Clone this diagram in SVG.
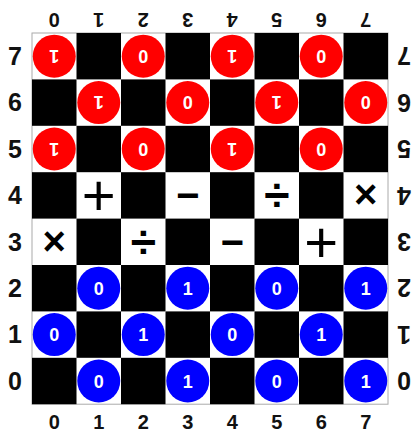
<svg xmlns="http://www.w3.org/2000/svg" width="417" height="432" viewBox="0 0 417 432">
<defs>
<style>
.lbl{font-family:"Liberation Sans",Arial,sans-serif;font-weight:bold;fill:#111;text-anchor:middle}
.sm{font-size:20px}
.lg{font-size:25px}
.blk{fill:#000}
.red{fill:#ff0000}
.blue{fill:#0000ff}
.num{font-family:"Liberation Sans",Arial,sans-serif;font-weight:bold;font-size:18px;fill:#fff;text-anchor:middle}
.op{font-family:"Liberation Sans",Arial,sans-serif;fill:#000;text-anchor:middle}
</style>
</defs>
<rect width="417" height="432" fill="#fff"/>
<g id="board">
<rect x="32" y="33" width="356" height="371.2" fill="#fff" stroke="#aaa" stroke-width="1"/>
<g class="blk">
<rect x="76.5" y="33" width="44.5" height="46.4"/><rect x="165.5" y="33" width="44.5" height="46.4"/><rect x="254.5" y="33" width="44.5" height="46.4"/><rect x="343.5" y="33" width="44.5" height="46.4"/>
<rect x="32" y="79.4" width="44.5" height="46.4"/><rect x="121" y="79.4" width="44.5" height="46.4"/><rect x="210" y="79.4" width="44.5" height="46.4"/><rect x="299" y="79.4" width="44.5" height="46.4"/>
<rect x="76.5" y="125.8" width="44.5" height="46.4"/><rect x="165.5" y="125.8" width="44.5" height="46.4"/><rect x="254.5" y="125.8" width="44.5" height="46.4"/><rect x="343.5" y="125.8" width="44.5" height="46.4"/>
<rect x="32" y="172.2" width="44.5" height="46.4"/><rect x="121" y="172.2" width="44.5" height="46.4"/><rect x="210" y="172.2" width="44.5" height="46.4"/><rect x="299" y="172.2" width="44.5" height="46.4"/>
<rect x="76.5" y="218.6" width="44.5" height="46.4"/><rect x="165.5" y="218.6" width="44.5" height="46.4"/><rect x="254.5" y="218.6" width="44.5" height="46.4"/><rect x="343.5" y="218.6" width="44.5" height="46.4"/>
<rect x="32" y="265" width="44.5" height="46.4"/><rect x="121" y="265" width="44.5" height="46.4"/><rect x="210" y="265" width="44.5" height="46.4"/><rect x="299" y="265" width="44.5" height="46.4"/>
<rect x="76.5" y="311.4" width="44.5" height="46.4"/><rect x="165.5" y="311.4" width="44.5" height="46.4"/><rect x="254.5" y="311.4" width="44.5" height="46.4"/><rect x="343.5" y="311.4" width="44.5" height="46.4"/>
<rect x="32" y="357.8" width="44.5" height="46.4"/><rect x="121" y="357.8" width="44.5" height="46.4"/><rect x="210" y="357.8" width="44.5" height="46.4"/><rect x="299" y="357.8" width="44.5" height="46.4"/>
</g>
</g>
<g id="labels-left">
<text class="lbl lg" x="15" y="65">7</text>
<text class="lbl lg" x="15" y="111.4">6</text>
<text class="lbl lg" x="15" y="157.8">5</text>
<text class="lbl lg" x="15" y="204.2">4</text>
<text class="lbl lg" x="15" y="250.6">3</text>
<text class="lbl lg" x="15" y="297">2</text>
<text class="lbl lg" x="15" y="343.4">1</text>
<text class="lbl lg" x="15" y="389.8">0</text>
</g>
<g id="labels-right">
<text class="lbl lg" x="404" y="65" transform="rotate(180 404 56.2)">7</text>
<text class="lbl lg" x="404" y="111.4" transform="rotate(180 404 102.6)">6</text>
<text class="lbl lg" x="404" y="157.8" transform="rotate(180 404 149)">5</text>
<text class="lbl lg" x="404" y="204.2" transform="rotate(180 404 195.4)">4</text>
<text class="lbl lg" x="404" y="250.6" transform="rotate(180 404 241.8)">3</text>
<text class="lbl lg" x="404" y="297" transform="rotate(180 404 288.2)">2</text>
<text class="lbl lg" x="404" y="343.4" transform="rotate(180 404 334.6)">1</text>
<text class="lbl lg" x="404" y="389.8" transform="rotate(180 404 381)">0</text>
</g>
<g id="labels-bottom">
<text class="lbl sm" x="54.25" y="429">0</text>
<text class="lbl sm" x="98.75" y="429">1</text>
<text class="lbl sm" x="143.25" y="429">2</text>
<text class="lbl sm" x="187.75" y="429">3</text>
<text class="lbl sm" x="232.25" y="429">4</text>
<text class="lbl sm" x="276.75" y="429">5</text>
<text class="lbl sm" x="321.25" y="429">6</text>
<text class="lbl sm" x="365.75" y="429">7</text>
</g>
<g id="labels-top">
<text class="lbl sm" x="54.25" y="27" transform="rotate(180 54.25 20)">0</text>
<text class="lbl sm" x="98.75" y="27" transform="rotate(180 98.75 20)">1</text>
<text class="lbl sm" x="143.25" y="27" transform="rotate(180 143.25 20)">2</text>
<text class="lbl sm" x="187.75" y="27" transform="rotate(180 187.75 20)">3</text>
<text class="lbl sm" x="232.25" y="27" transform="rotate(180 232.25 20)">4</text>
<text class="lbl sm" x="276.75" y="27" transform="rotate(180 276.75 20)">5</text>
<text class="lbl sm" x="321.25" y="27" transform="rotate(180 321.25 20)">6</text>
<text class="lbl sm" x="365.75" y="27" transform="rotate(180 365.75 20)">7</text>
</g>
<g id="red-pieces">
<g transform="translate(54.25 56.2)"><circle class="red" r="21.5"/><text class="num" y="6.5" transform="rotate(180)">1</text></g>
<g transform="translate(143.25 56.2)"><circle class="red" r="21.5"/><text class="num" y="6.5" transform="rotate(180)">0</text></g>
<g transform="translate(232.25 56.2)"><circle class="red" r="21.5"/><text class="num" y="6.5" transform="rotate(180)">1</text></g>
<g transform="translate(321.25 56.2)"><circle class="red" r="21.5"/><text class="num" y="6.5" transform="rotate(180)">0</text></g>
<g transform="translate(98.75 102.6)"><circle class="red" r="21.5"/><text class="num" y="6.5" transform="rotate(180)">1</text></g>
<g transform="translate(187.75 102.6)"><circle class="red" r="21.5"/><text class="num" y="6.5" transform="rotate(180)">0</text></g>
<g transform="translate(276.75 102.6)"><circle class="red" r="21.5"/><text class="num" y="6.5" transform="rotate(180)">1</text></g>
<g transform="translate(365.75 102.6)"><circle class="red" r="21.5"/><text class="num" y="6.5" transform="rotate(180)">0</text></g>
<g transform="translate(54.25 149)"><circle class="red" r="21.5"/><text class="num" y="6.5" transform="rotate(180)">1</text></g>
<g transform="translate(143.25 149)"><circle class="red" r="21.5"/><text class="num" y="6.5" transform="rotate(180)">0</text></g>
<g transform="translate(232.25 149)"><circle class="red" r="21.5"/><text class="num" y="6.5" transform="rotate(180)">1</text></g>
<g transform="translate(321.25 149)"><circle class="red" r="21.5"/><text class="num" y="6.5" transform="rotate(180)">0</text></g>
</g>
<g id="blue-pieces">
<g transform="translate(98.75 288.2)"><circle class="blue" r="21.5"/><text class="num" y="6.5">0</text></g>
<g transform="translate(187.75 288.2)"><circle class="blue" r="21.5"/><text class="num" y="6.5">1</text></g>
<g transform="translate(276.75 288.2)"><circle class="blue" r="21.5"/><text class="num" y="6.5">0</text></g>
<g transform="translate(365.75 288.2)"><circle class="blue" r="21.5"/><text class="num" y="6.5">1</text></g>
<g transform="translate(54.25 334.6)"><circle class="blue" r="21.5"/><text class="num" y="6.5">0</text></g>
<g transform="translate(143.25 334.6)"><circle class="blue" r="21.5"/><text class="num" y="6.5">1</text></g>
<g transform="translate(232.25 334.6)"><circle class="blue" r="21.5"/><text class="num" y="6.5">0</text></g>
<g transform="translate(321.25 334.6)"><circle class="blue" r="21.5"/><text class="num" y="6.5">1</text></g>
<g transform="translate(98.75 381)"><circle class="blue" r="21.5"/><text class="num" y="6.5">0</text></g>
<g transform="translate(187.75 381)"><circle class="blue" r="21.5"/><text class="num" y="6.5">1</text></g>
<g transform="translate(276.75 381)"><circle class="blue" r="21.5"/><text class="num" y="6.5">0</text></g>
<g transform="translate(365.75 381)"><circle class="blue" r="21.5"/><text class="num" y="6.5">1</text></g>
</g>
<g id="operators">
<text class="op" x="98.75" y="215" font-size="58">+</text>
<text class="op" x="187.75" y="209" font-size="40" font-weight="bold">−</text>
<text class="op" x="276.75" y="211" font-size="46" font-weight="bold">÷</text>
<text class="op" x="365.75" y="208" font-size="40" font-weight="bold">×</text>
<text class="op" x="54.25" y="255" font-size="40" font-weight="bold">×</text>
<text class="op" x="143.25" y="258" font-size="46" font-weight="bold">÷</text>
<text class="op" x="232.25" y="256" font-size="40" font-weight="bold">−</text>
<text class="op" x="321.25" y="262" font-size="58">+</text>
</g>
</svg>
